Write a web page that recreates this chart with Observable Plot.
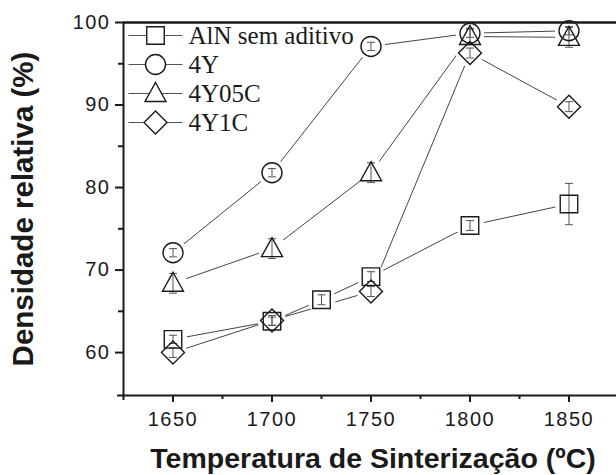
<!DOCTYPE html>
<html><head><meta charset="utf-8">
<script src="https://cdn.jsdelivr.net/npm/d3@7"></script>
<script src="https://cdn.jsdelivr.net/npm/@observablehq/plot@0.6"></script>
<style>
body{margin:0;background:#fff}
svg [aria-label="x-axis tick label"] text, svg [aria-label="y-axis tick label"] text{letter-spacing:1.5px}
</style></head><body><div id="chart"></div>
<script>
// ---- data ----
const seriesNames = ["AlN sem aditivo", "4Y", "4Y05C", "4Y1C"];
const tempsAlN = [1650, 1700, 1725, 1750, 1800, 1850];
const temps = [1650, 1700, 1750, 1800, 1850];
const alnValues = [61.6, 63.8, 66.4, 69.2, 75.4, 78.0];
const alnErrors = [0.5, 0.5, 0.6, 0.6, 0.6, 2.5];
const y4Values = [72.1, 81.8, 97.1, 98.7, 99.0];
const y4Errors = [0.5, 0.5, 0.5, 0.5, 0.5];
const y05cValues = [68.4, 72.6, 81.8, 98.3, 98.2];
const y05cErrors = [1.2, 1.2, 1.2, 1.0, 1.2];
const y1cValues = [60.0, 63.9, 67.4, 96.3, 89.8];
const y1cErrors = [0.6, 0.6, 0.6, 0.6, 0.6];
const xTicks = [1650, 1700, 1750, 1800, 1850];
const xMinorTicks = [1675, 1725, 1775, 1825];
const yTicks = [60, 70, 80, 90, 100];
const yMinorTicks = [65, 75, 85, 95];
const xDomain = [1625, 1874];
const yDomain = [54.8, 100];
const xTitle = "Temperatura de Sinterização (ºC)";
const yTitle = "Densidade relativa (%)";

// ---- symbols ----
const circleSym = {draw(c){c.moveTo(10,0); c.arc(0,0,10,0,2*Math.PI);}};
const squareSym = {draw(c){c.rect(-8.75,-8.75,17.5,17.5);}};
const triSym = {draw(c){c.moveTo(0,-11); c.lineTo(10.5,8); c.lineTo(-10.5,8); c.closePath();}};
const diaSym = {draw(c){c.moveTo(0,-11.5); c.lineTo(11.5,0); c.lineTo(0,11.5); c.lineTo(-11.5,0); c.closePath();}};
const haloSym = {draw(c){c.moveTo(14,0); c.arc(0,0,14,0,2*Math.PI);}};
const capSym = {draw(c){c.moveTo(-4,0); c.lineTo(4,0);}};
const legLine = hw => ({draw(c){c.moveTo(-27,0); c.lineTo(-hw,0); c.moveTo(hw,0); c.lineTo(27,0);}});

const series = [
  {name: seriesNames[0], temps: tempsAlN, values: alnValues, errors: alnErrors, sym: squareSym, hw: 8.75},
  {name: seriesNames[1], temps: temps, values: y4Values, errors: y4Errors, sym: circleSym, hw: 10},
  {name: seriesNames[2], temps: temps, values: y05cValues, errors: y05cErrors, sym: triSym, hw: 6.1},
  {name: seriesNames[3], temps: temps, values: y1cValues, errors: y1cErrors, sym: diaSym, hw: 11.5}
];
series.forEach(s => s.rows = s.temps.map((t, i) => ({t, v: s.values[i], e: s.errors[i]})));

const ink = "#1a1a1a";
const marks = [];
// lines
series.forEach(s => marks.push(Plot.line(s.rows, {x: "t", y: "v", stroke: "#444", strokeWidth: 1})));
// halos to open gaps around markers
series.forEach(s => marks.push(Plot.dot(s.rows, {x: "t", y: "v", symbol: haloSym, fill: "white", stroke: null})));
// error bars
series.forEach(s => {
  marks.push(Plot.ruleX(s.rows, {x: "t", y1: d => d.v - d.e, y2: d => d.v + d.e, stroke: "#555", strokeWidth: 1}));
  marks.push(Plot.dot(s.rows, {x: "t", y: d => d.v - d.e, symbol: capSym, stroke: "#555", strokeWidth: 1}));
  marks.push(Plot.dot(s.rows, {x: "t", y: d => d.v + d.e, symbol: capSym, stroke: "#555", strokeWidth: 1}));
});
// markers
series.forEach(s => marks.push(Plot.dot(s.rows, {x: "t", y: "v", symbol: s.sym, fill: "none", stroke: ink, strokeWidth: 1.4})));

// legend
series.forEach((s, i) => {
  marks.push(Plot.dot([s.name], {frameAnchor: "top-left", dx: 32, dy: 13 + 29 * i, symbol: legLine(s.hw), stroke: "#555", strokeWidth: 1, fill: "none"}));
  marks.push(Plot.dot([s.name], {frameAnchor: "top-left", dx: 32, dy: 13 + 29 * i, symbol: s.sym, stroke: ink, strokeWidth: 1.4, fill: "none"}));
  marks.push(Plot.text([s.name], {text: d => d, frameAnchor: "top-left", dx: 65, dy: 13 + 29 * i, textAnchor: "start", lineAnchor: "middle", fontSize: 25, fontFamily: "'Liberation Serif', 'Times New Roman', serif", fill: ink}));
});

// axes and frame
marks.push(
  Plot.axisY({ticks: yTicks, tickSize: 8, tickPadding: 5, fontSize: 20, label: null, color: ink, strokeWidth: 2}),
  Plot.axisY({ticks: yMinorTicks, tickSize: 5, tickFormat: () => "", label: null, color: ink, strokeWidth: 2}),
  Plot.axisX({ticks: xTicks, tickSize: 7, tickPadding: 9, fontSize: 20, label: null, color: ink, strokeWidth: 2, tickFormat: d => String(d)}),
  Plot.axisX({ticks: xMinorTicks, tickSize: 4, tickFormat: () => "", label: null, color: ink, strokeWidth: 2}),
  Plot.ruleX([xDomain[0]], {stroke: ink, strokeWidth: 2, insetBottom: -5}),
  Plot.ruleY([yDomain[0]], {stroke: ink, strokeWidth: 2, insetLeft: -6}),
  Plot.ruleY([yDomain[1]], {stroke: ink, strokeWidth: 2.5}),
  Plot.text([xTitle], {text: d => d, frameAnchor: "bottom", textAnchor: "middle", dx: 3, dy: 63, lineAnchor: "middle", fontSize: 28.5, fontWeight: "bold", fill: ink}),
  Plot.text([yTitle], {text: d => d, frameAnchor: "left", textAnchor: "middle", dx: -100, rotate: -90, lineAnchor: "middle", fontSize: 29.5, fontWeight: "bold", fill: ink})
);

const chart = Plot.plot({
  width: 616, height: 475,
  marginLeft: 123, marginRight: 0, marginTop: 22, marginBottom: 80,
  x: {domain: xDomain},
  y: {domain: yDomain},
  style: {fontFamily: "'Liberation Sans', Arial, sans-serif", background: "#fff", overflow: "visible"},
  marks
});
document.getElementById("chart").appendChild(chart);
</script></body></html>
